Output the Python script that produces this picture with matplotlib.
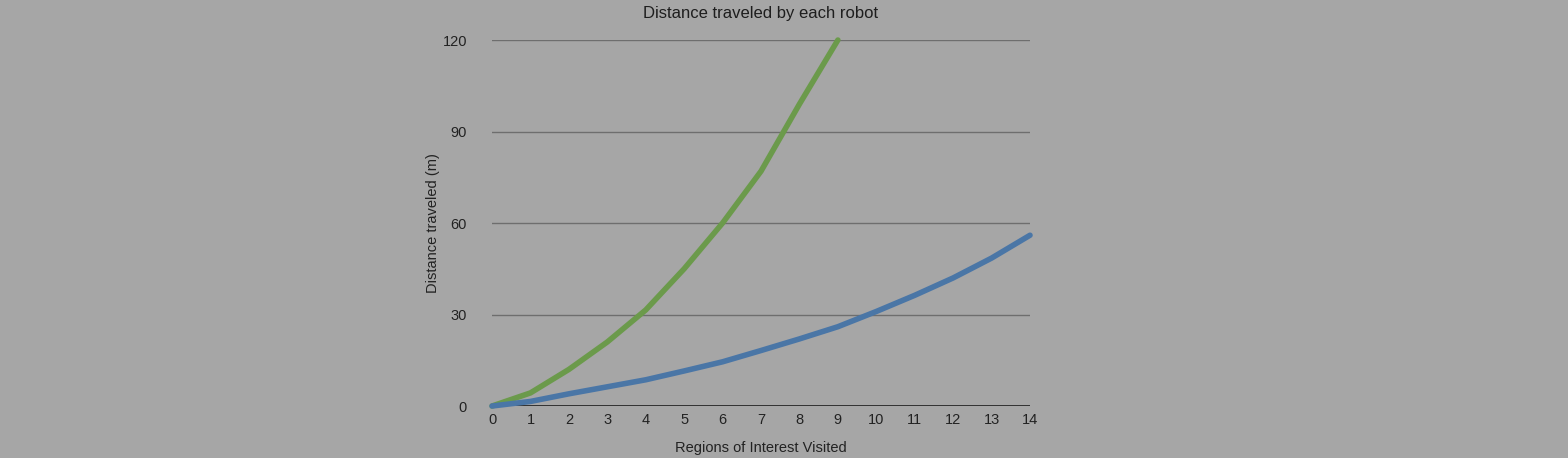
import numpy as np
import matplotlib.pyplot as plt

plt.rcParams['font.family'] = ['Liberation Sans', 'DejaVu Sans']

# regions of interest visited
regions = [0, 1, 2, 3, 4, 5, 6, 7, 8, 9, 10, 11, 12, 13, 14]
# distance traveled (m)
green_dist = [0, 4.3, 12, 21, 31.5, 45, 60, 77, 99, 120]
blue_dist = [0, 1.5, 4, 6.3, 8.6, 11.5, 14.5, 18.2, 22, 26, 31, 36.3, 42, 48.5, 56]

bg = '#a6a6a6'

fig = plt.figure(figsize=(15.68, 4.58), dpi=100, facecolor=bg)
ax = fig.add_axes([0.3138, 0.1135, 0.3431, 0.7991], facecolor=bg)

ax.plot(regions[:len(green_dist)], green_dist, color='#6b9a4b', lw=4,
        solid_capstyle='round', solid_joinstyle='round', zorder=3, clip_on=False)
ax.plot(regions, blue_dist, color='#4a76a6', lw=4,
        solid_capstyle='round', solid_joinstyle='round', zorder=4, clip_on=False)

ax.set_xlim(0, 14)
ax.set_ylim(0, 120)
ax.set_xticks(regions)
ax.set_yticks([0, 30, 60, 90, 120])

for y in [30, 60, 90, 120]:
    ax.axhline(y, color='#6e6e6e', lw=1.0, zorder=1)
ax.axhline(0, color='#1e1e1e', lw=1.2, zorder=2)

for s in ax.spines.values():
    s.set_visible(False)

ax.tick_params(axis='both', length=0, labelsize=10.5, colors='#222222')
ax.tick_params(axis='x', pad=5)
ax.tick_params(axis='y', pad=18)

ax.set_title('Distance traveled by each robot', fontsize=12, color='#1e1e1e', pad=16)
ax.set_xlabel('Regions of Interest Visited', fontsize=10.5, color='#222222', labelpad=10)
ax.set_ylabel('Distance traveled (m)', fontsize=10.5, color='#222222', labelpad=2)

fig.savefig('out.png', dpi=100, facecolor=bg)
